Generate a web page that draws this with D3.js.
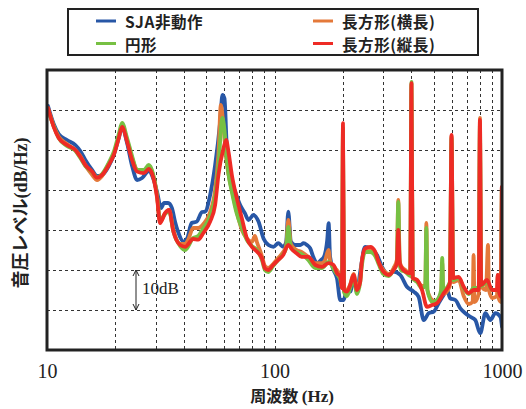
<!DOCTYPE html>
<html><head><meta charset="utf-8">
<script src="https://cdn.jsdelivr.net/npm/d3@7"></script>
<style>body{margin:0;background:#fff}svg{display:block}</style>
</head><body>
<svg id="c" width="526" height="409"></svg>
<script>
// ---- data: [frequency Hz, level dB (relative)] ----
const seriesNames = ["SJA非動作", "円形", "長方形(横長)", "長方形(縦長)"];
const xTickValues = [10, 100, 1000];
const xTickLabels = ["10", "100", "1000"];
const yGridValues = [10, 20, 30, 40, 50, 60];

const blue = [[10.1,61],[10.7,56.5],[11.26,54],[12.24,52.5],[13.32,51.25],[14.01,49.75],[14.74,47.5],[15.78,45],[16.6,43.5],[17.46,43.75],[18.68,46],[19.65,48.75],[20.68,53],[21.38,55.75],[22.49,51.75],[23.66,46],[24.89,42.5],[26.18,43],[28.02,44.75],[29.26,43],[30.47,39.5],[31.73,35.5],[32.71,36.75],[34.07,36.75],[35.4,35.5],[36.57,32],[37.7,29.5],[39.79,27.1],[41.4,28],[43.2,31.75],[45.5,32.1],[48.0,34.5],[49.56,34.6],[52.13,38.75],[54.83,46.25],[57.7,57.1],[59.05,63.75],[60.26,62.9],[61.74,50.4],[63.84,43.75],[67.15,39.6],[70.65,36.25],[74.1,34.2],[76.85,32.5],[80.84,33.75],[85.05,32.1],[89.47,27.9],[94.1,26.25],[99,25.8],[103.8,26.7],[109.2,25.8],[112.5,27],[115,34.6],[118,27.1],[123,26.25],[129.8,26.25],[134.2,26.7],[138.9,26.25],[143.6,25.4],[148,23.3],[154,21.7],[160,22.5],[165,23.3],[170.5,27.5],[173,31.7],[175.5,23.3],[181.8,20],[188.2,17.9],[194.5,12.5],[201.3,12.5],[208.2,15],[215.3,14.6],[222.6,17.9],[230.4,14.6],[238.2,19.6],[250,25.8],[264,25.4],[282.2,23.75],[296.9,20.8],[318,18.75],[333.8,19.6],[357.3,18.75],[382,15.8],[408.8,14.6],[430.1,13.3],[452.7,7.5],[476.2,9.2],[501,9.6],[526.7,11.7],[554,13.75],[573,15],[592,12.9],[623.7,12.5],[656,10.4],[690,9.2],[725.5,8.3],[763,7.5],[802.6,4.2],[845,9.2],[888.6,7.5],[935,9.2],[984,8.3],[1000,5.8]];

const orange = [[10.1,60.5],[10.7,56],[11.26,53.3],[12.24,51.5],[13.32,50],[14.01,48.5],[14.74,46.2],[15.78,43.8],[16.6,42.5],[17.46,43.5],[18.68,46.5],[19.65,49],[20.68,53.3],[21.38,56],[22.49,52.5],[23.66,48],[24.89,45],[26.63,44.5],[28.02,45.75],[29.26,43.75],[30.47,38.5],[31.4,32],[33.0,34],[34.4,35],[35.95,30],[38.47,26.5],[40.47,26.5],[41.7,27.5],[43.9,30.5],[46.2,30.5],[48.7,31.5],[52.13,34.5],[54.83,40],[56.69,49],[58.1,61.25],[59.65,56],[61.31,48],[62.75,44],[64.95,40],[68.33,34.5],[71.88,30],[75.62,27.9],[79.55,27],[82,28.5],[83.68,27],[88.04,23.5],[90.76,21],[93.8,20.5],[98.6,21.5],[103.8,23],[109.2,24.5],[112.5,26],[115,32.5],[118,26.5],[125,25],[131.5,24.5],[140.7,23.3],[151.1,21.7],[161.6,21.7],[167,22.5],[172.8,25],[176,22],[184.9,20.5],[194.5,18.5],[198,16],[200,55.5],[202,15.5],[208.2,15],[215.3,16.5],[222.6,19],[230.4,15.5],[238.2,18],[242,22],[250.5,25],[263.6,25.4],[277,24],[286.8,22],[300.8,20],[318,19],[333.8,20.5],[345,22.5],[350,37.5],[355,22.5],[360,21],[375.8,20],[395,19],[400,66.5],[405,18],[423,17.5],[445,16],[460,16],[465,31.75],[470,15],[493,12.5],[518,12],[540,14],[546,21.75],[552,14],[590,16],[600,53.5],[610,17],[645,17.5],[678.5,13.5],[713.7,11.5],[743,12],[750,23.75],[757,12],[790,14],[800,58],[810,16],[850,15],[868,26.25],[876,15],[905,13],[950,13.5],[958,18.75],[966,13],[990,12],[998,40.5]];

const green = [[10.1,60],[10.7,56],[11.26,53],[12.24,51],[13.32,49.8],[14.01,48],[14.74,46],[15.78,44.5],[16.6,43.2],[17.46,44],[18.68,46.8],[19.65,49.5],[20.68,54],[21.38,56.75],[22.49,53],[23.66,48.5],[24.89,45],[26.63,45],[28.02,46.25],[29.26,44],[30.47,38.5],[31.4,32.5],[33.0,34],[34.4,34.8],[35.95,29.5],[38.47,26],[40.47,25],[43.9,28],[46.2,28.5],[48.7,30.5],[52.13,33.5],[54.83,38.5],[56.69,46],[59.05,58],[60.26,55],[61.74,47.5],[62.75,44],[64.95,39.5],[68.33,34],[71.88,30.5],[75.62,27.5],[79.55,26],[83.68,25],[88.04,22.5],[90.76,20],[93.8,19.5],[98.6,21],[103.8,22.5],[109.2,24],[112.5,25.5],[115,30.8],[118,25.5],[125,24.5],[131.5,24],[140.7,22.5],[151.1,20.5],[161.6,20.5],[172.8,22],[184.9,19.5],[194.5,17.5],[198,15.5],[200,55],[202,14.5],[208.2,13.5],[215.3,15.5],[222.6,18],[230.4,14],[238.2,17],[242,21],[250.5,24.5],[263.6,24.5],[277,23.5],[286.8,21.5],[300.8,19],[318,18.5],[333.8,20],[345,21.5],[350,37],[355,21.5],[360,20],[375.8,19.5],[395,18.5],[400,67],[405,18],[423,17],[445,15.5],[460,16],[465,30.5],[470,15],[493,12],[518,12.5],[540,15],[546,23],[552,15],[590,17],[600,53],[610,17.5],[645,18],[678.5,15.5],[713.7,14],[750,15.5],[790,15.5],[800,56.5],[810,16],[859,17],[905,15],[950,15],[990,14],[998,40]];

const red = [[10.1,60.5],[10.7,55.8],[11.26,53],[12.24,51.25],[13.32,50],[14.01,48.3],[14.74,46.25],[15.78,44.6],[16.6,43.1],[17.46,43.75],[18.68,46.25],[19.65,48.75],[20.68,53],[21.38,55.8],[22.49,52.1],[23.66,47.5],[24.89,44.6],[26.63,44.2],[28.02,45.25],[29.26,43.3],[30.47,38],[31.4,31.7],[33.0,34.2],[34.4,35],[35.95,29.6],[38.47,26.25],[40.47,25.8],[43.9,27.75],[46.2,27.6],[48.7,29.25],[52.13,32.1],[54.83,36.25],[56.69,43.75],[59.65,50.4],[61.31,52.5],[62.75,49.6],[64.95,43.75],[68.33,37.9],[71.88,32.9],[75.62,27.9],[79.55,25.8],[83.68,24.6],[88.04,22.9],[90.76,20.4],[93.8,20],[98.6,21.25],[103.8,22.5],[109.2,23.75],[114.9,26.25],[120,25],[125,24.2],[131.5,23.3],[140.7,23.3],[151.1,21.25],[161.6,20.8],[172.8,21.7],[181.8,21.25],[188.2,19.2],[194.5,18.3],[198,15.5],[200,56.7],[202,15],[208.2,14.6],[215.3,16.25],[222.6,18.75],[230.4,15],[238.2,17.1],[242,22],[250.5,25.4],[263.6,25.8],[277,24.6],[286.8,22],[300.8,19.6],[318,18.75],[333.8,20],[345,21.7],[350,30],[355,22],[360,20.8],[375.8,19.6],[395,19.2],[400,66.7],[405,18],[423,17.5],[445,15],[468,10.8],[493,11.25],[518,11.7],[554,14.2],[590,16.7],[600,53.75],[610,18],[645,18.3],[678.5,15.8],[713.7,14.2],[750.7,15],[790,15],[800,57.5],[810,16.25],[859,17.5],[905,15],[950,15],[958,18.75],[966,15],[990,13.3],[998,40.75]];

const seriesData = [blue, green, orange, red];
const seriesColors = ["#2857a6", "#77c043", "#e4793a", "#ee2b25"];
const drawOrder = [0, 2, 1, 3];

// ---- layout ----
const svg = d3.select("#c");
const L = 47, R = 502, T = 70, B = 350;
const x = d3.scaleLog().domain([10, 1000]).range([L, R]);
const y = d3.scaleLinear().domain([0, 70]).range([B, T]);

// grid
const minorX = [];
[10, 100].forEach(d => { for (let k = 2; k <= 9; k++) minorX.push(d * k); });
minorX.push(100);
const grid = svg.append("g").attr("stroke", "#333").attr("stroke-width", 1).attr("stroke-dasharray", "3,3");
grid.selectAll("line.v").data(minorX).join("line")
  .attr("x1", d => Math.round(x(d)) + 0.5).attr("x2", d => Math.round(x(d)) + 0.5)
  .attr("y1", T).attr("y2", B);
grid.selectAll("line.h").data(yGridValues).join("line")
  .attr("x1", L).attr("x2", R)
  .attr("y1", d => Math.round(y(d)) + 0.5).attr("y2", d => Math.round(y(d)) + 0.5);

// clip
svg.append("clipPath").attr("id", "clip").append("rect")
  .attr("x", L).attr("y", T).attr("width", R - L).attr("height", B - T);

const line = d3.line().x(d => x(d[0])).y(d => y(d[1])).curve(d3.curveMonotoneX);
const plot = svg.append("g").attr("clip-path", "url(#clip)");
drawOrder.forEach(i => {
  plot.append("path").datum(seriesData[i])
    .attr("fill", "none").attr("stroke", seriesColors[i])
    .attr("stroke-width", 3.8).attr("stroke-linejoin", "round").attr("stroke-linecap", "round")
    .attr("d", line);
});

// frame
svg.append("rect").attr("x", L).attr("y", T).attr("width", R - L).attr("height", B - T)
  .attr("fill", "none").attr("stroke", "#222").attr("stroke-width", 3);

// x tick labels
const xAxis = d3.axisBottom(x).tickValues(xTickValues).tickFormat((d, i) => xTickLabels[i]).tickSize(0).tickPadding(0);
const gx = svg.append("g").attr("transform", `translate(0,${B})`).call(xAxis);
gx.select(".domain").remove();
gx.selectAll("text").attr("font-family", "'Liberation Serif', serif").attr("font-size", 20)
  .attr("fill", "#222").attr("dy", null).attr("y", 28);

// axis titles
const xt = svg.append("text").attr("x", 292).attr("y", 402).attr("text-anchor", "middle")
  .attr("fill", "#222").attr("font-weight", "bold").attr("font-size", 16);
xt.append("tspan").attr("font-family", "'Noto Sans CJK JP'").text("周波数 ");
xt.append("tspan").attr("font-family", "'Liberation Serif', serif").attr("font-size", 17).text("(Hz)");

const yt = svg.append("text").attr("transform", "translate(27,213) rotate(-90)").attr("text-anchor", "middle")
  .attr("fill", "#222").attr("font-weight", "bold").attr("font-size", 18);
yt.append("tspan").attr("font-family", "'Noto Sans CJK JP'").text("音圧レベル");
yt.append("tspan").attr("font-family", "'Liberation Serif', serif").text("(dB/Hz)");

// 10dB scale marker
const mx = 136;
svg.append("line").attr("x1", mx).attr("x2", mx).attr("y1", y(20)).attr("y2", y(10))
  .attr("stroke", "#222").attr("stroke-width", 1);
[[y(20), 1], [y(10), -1]].forEach(([yy, s]) => {
  svg.append("path").attr("d", `M${mx - 3},${yy + 6 * s}L${mx},${yy}L${mx + 3},${yy + 6 * s}`)
    .attr("fill", "none").attr("stroke", "#222").attr("stroke-width", 1);
});
svg.append("text").attr("x", 142).attr("y", 294).attr("font-family", "'Liberation Serif', serif")
  .attr("font-size", 17).attr("fill", "#222").text("10dB");

// legend
svg.append("rect").attr("x", 68).attr("y", 9).attr("width", 410).attr("height", 46)
  .attr("fill", "#fff").attr("stroke", "#222").attr("stroke-width", 2);
const legPos = [[96, 21], [96, 43.5], [313, 21], [313, 43.5]];
seriesNames.forEach((name, i) => {
  const [lx, ly] = legPos[i];
  svg.append("line").attr("x1", lx).attr("x2", lx + 20).attr("y1", ly).attr("y2", ly)
    .attr("stroke", seriesColors[i]).attr("stroke-width", 3);
  svg.append("text").attr("x", lx + 29).attr("y", ly).attr("dominant-baseline", "central")
    .attr("font-family", "'Noto Sans CJK JP'").attr("font-weight", "bold").attr("font-size", 15.5)
    .attr("letter-spacing", 0.6).attr("fill", "#222").text(name);
});
</script>
</body></html>
